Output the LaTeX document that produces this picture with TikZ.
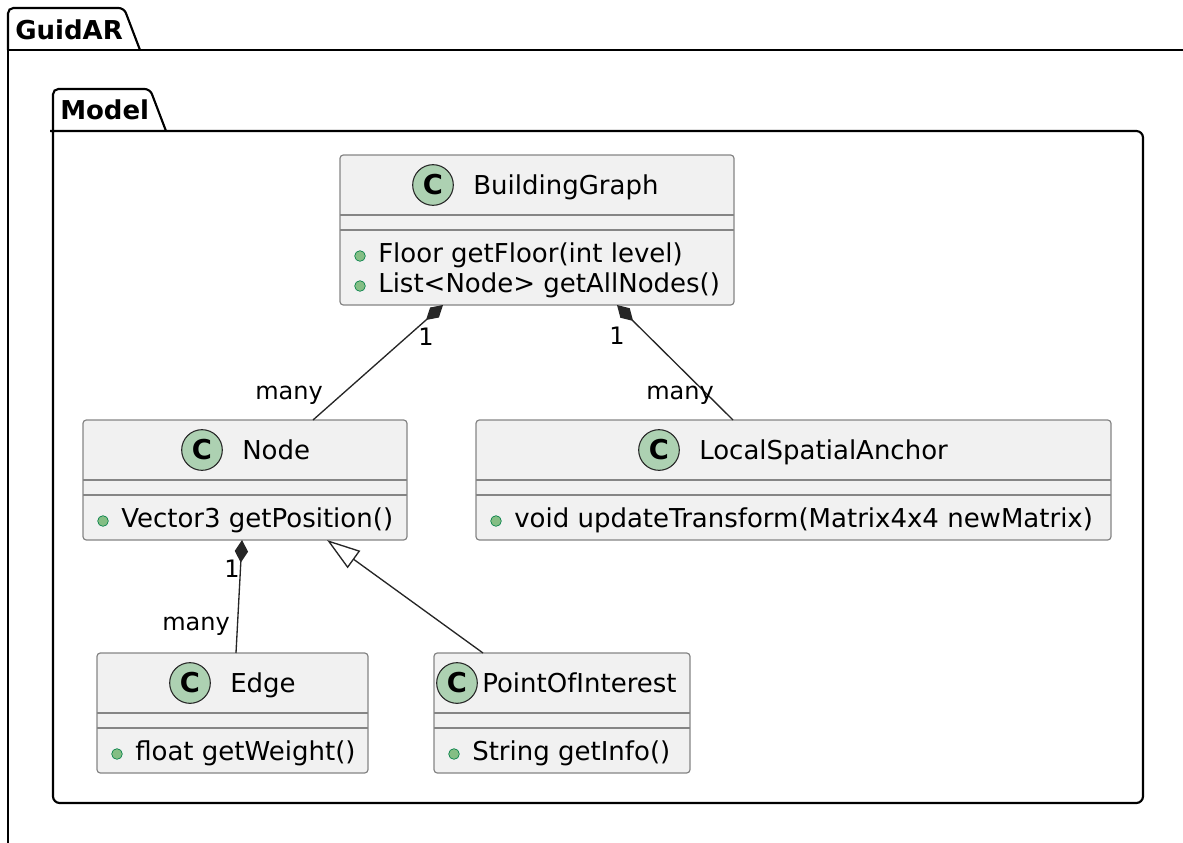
\documentclass[tikz,border=0pt]{standalone}
\usepackage{fontspec}
\setmainfont{DejaVu Sans}
\usetikzlibrary{arrows.meta}
\definecolor{boxfill}{HTML}{F1F1F1}
\definecolor{boxline}{HTML}{858585}
\definecolor{circfill}{HTML}{ADD1B2}
\definecolor{bulfill}{HTML}{84BE84}
\definecolor{bulline}{HTML}{038048}
\definecolor{conline}{HTML}{262626}
\tikzset{
  classbox/.style={draw=boxline, fill=boxfill, rounded corners=2.5pt, line width=0.9pt, inner sep=0pt, outer sep=0pt},
  sepline/.style={draw=boxline, line width=0.9pt},
  circ/.style={circle, draw=conline, fill=circfill, minimum size=30.5pt, inner sep=0pt, line width=0.8pt,
    font=\fontsize{20.5}{20.5}\selectfont\bfseries},
  bullet/.style={circle, draw=bulline, fill=bulfill, minimum size=8pt, inner sep=0pt, line width=0.5pt},
  ctitle/.style={font=\fontsize{19.5}{23}\selectfont, inner sep=0pt, anchor=base west, text=black},
  member/.style={font=\fontsize{19.5}{23}\selectfont, inner sep=0pt, anchor=base west, text=black},
  lbl/.style={font=\fontsize{18}{20}\selectfont, inner sep=0pt, anchor=base, text=black},
  pkgline/.style={draw=black, line width=1.6pt},
  pkgtitle/.style={font=\fontsize{19.5}{23}\selectfont\bfseries, inner sep=0pt, anchor=base west, text=black},
  conn/.style={draw=conline, line width=1pt},
  comp/.style={conn, {Diamond[length=17pt,width=10pt,fill=conline]}-},
  inherit/.style={conn, -{Triangle[open,length=25pt,width=16pt,fill=white]}},
}
\newcommand{\umlbox}[5]{%
  \node[classbox, minimum width={(#4-#2)*0.75pt}, minimum height={(#5-#3)*0.75pt}] (#1) at ({(#2+#4)/2},{(#3+#5)/2}) {};
  \draw[sepline] (#2,#3+60) -- (#4,#3+60);
  \draw[sepline] (#2,#3+75) -- (#4,#3+75);
}
\begin{document}
\begin{tikzpicture}[x=0.75pt,y=-0.75pt]
\useasboundingbox (0,0) rectangle (1183,843);

% package GuidAR
\draw[pkgline] (8,870) -- (8,50) -- (1200,50);
\draw[pkgline, rounded corners=4pt] (8,50) -- (8,8) -- (124,8) [sharp corners] -- (140,50);
\node[pkgtitle] (guidar) at (15,39) {GuidAR};

% package Model
\draw[pkgline, rounded corners=5pt] (53,131) -- (53,803) -- (1143,803) -- (1143,131) -- (50,131);
\draw[pkgline, rounded corners=4pt] (53,131) -- (53,89) -- (150,89) [sharp corners] -- (166,131);
\node[pkgtitle] (model) at (60,119) {Model};

% BuildingGraph
\umlbox{bg}{340}{155}{734}{305}
\node[circ] (bgc) at (433,185) {C};
\node[ctitle] (bgt) at (473,194) {BuildingGraph};
\node[bullet] (bgb1) at (360,256) {};
\node[member] (bgm1) at (378,262) {Floor getFloor(int level)};
\node[bullet] (bgb2) at (360,286) {};
\node[member] (bgm2) at (378,292) {List<Node> getAllNodes()};

% Node
\umlbox{nd}{83}{420}{407}{540}
\node[circ] (ndc) at (202,450) {C};
\node[ctitle] (ndt) at (242,459) {Node};
\node[bullet] (ndb1) at (103,521) {};
\node[member] (ndm1) at (121,527) {Vector3 getPosition()};

% LocalSpatialAnchor
\umlbox{lsa}{476}{420}{1111}{540}
\node[circ] (lsac) at (659,450) {C};
\node[ctitle] (lsat) at (699,459) {LocalSpatialAnchor};
\node[bullet] (lsab1) at (496,521) {};
\node[member] (lsam1) at (514,527) {void updateTransform(Matrix4x4 newMatrix)};

% Edge
\umlbox{ed}{97}{653}{368}{773}
\node[circ] (edc) at (190,683) {C};
\node[ctitle] (edt) at (230,692) {Edge};
\node[bullet] (edb1) at (117,754) {};
\node[member] (edm1) at (135,760) {float getWeight()};

% PointOfInterest
\umlbox{poi}{434}{653}{690}{773}
\node[circ] (poic) at (457,683) {C};
\node[ctitle] (poit) at (482,692) {PointOfInterest};
\node[bullet] (poib1) at (454,754) {};
\node[member] (poim1) at (472,760) {String getInfo()};

% connector end points
\coordinate (bgA) at (443,305);
\coordinate (bgB) at (617,305);
\coordinate (ndTop) at (313,420);
\coordinate (lsaTop) at (733,420);
\coordinate (ndA) at (242,540);
\coordinate (ndB) at (327,540);
\coordinate (edTop) at (236,653);
\coordinate (poiTop) at (483,653);

\draw[comp] (bgA) -- (ndTop);
\draw[comp] (bgB) -- (lsaTop);
\draw[comp] (ndA) -- (edTop);
\draw[inherit] (poiTop) -- (ndB);

% multiplicities
\node[lbl] (m1a) at (426,345) {1};
\node[lbl] (m1b) at (289,399) {many};
\node[lbl] (m2a) at (617,344) {1};
\node[lbl] (m2b) at (680,399) {many};
\node[lbl] (m3a) at (232,577) {1};
\node[lbl] (m3b) at (196,630) {many};
\end{tikzpicture}
\end{document}
